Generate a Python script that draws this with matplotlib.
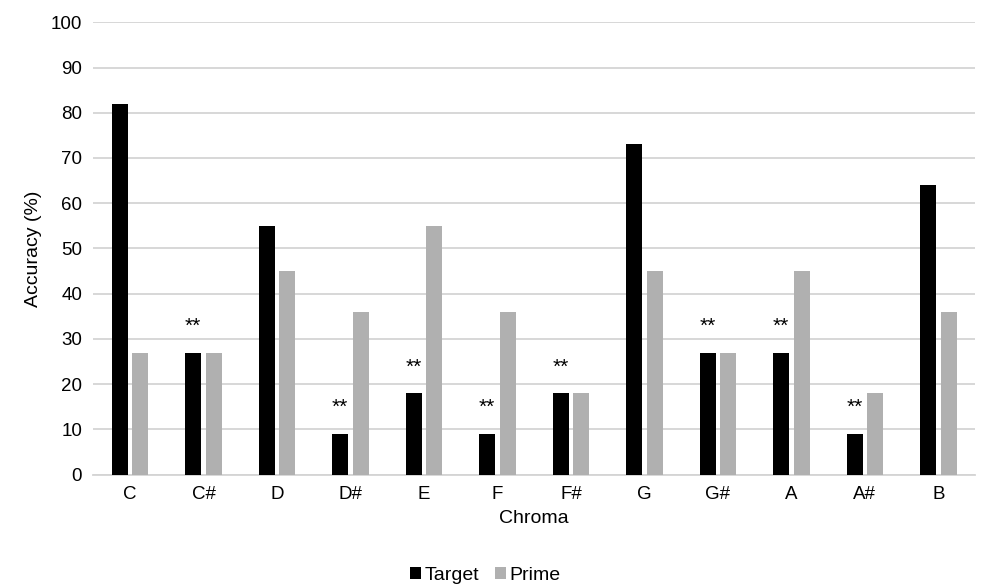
import numpy as np
import matplotlib
matplotlib.use("Agg")
import matplotlib.pyplot as plt

# ---------------------------------------------------------------------------
# Data
# ---------------------------------------------------------------------------

chroma = ["C", "C#", "D", "D#", "E", "F", "F#", "G", "G#", "A", "A#", "B"]
target = [82, 27, 55, 9, 18, 9, 18, 73, 27, 27, 9, 64]
prime = [27, 27, 45, 36, 55, 36, 18, 45, 27, 45, 18, 36]
significant = [False, True, False, True, True, True, True, False, True, True, True, False]

# ---------------------------------------------------------------------------
# Chart
# ---------------------------------------------------------------------------

plt.rcParams["font.family"] = ["Liberation Sans", "DejaVu Sans"]

fig = plt.figure(figsize=(9.82, 5.86), dpi=100)
ax = fig.add_axes([0.095, 0.19, 0.898, 0.772])

x = np.arange(len(chroma))
width = 0.22
gap = 0.06
ax.bar(x - (width + gap) / 2, target, width, color="black", label="Target", zorder=3)
ax.bar(x + (width + gap) / 2, prime, width, color="#b0b0b0", label="Prime", zorder=3)

for xi, val, sig in zip(x, target, significant):
    if sig:
        ax.annotate("**", (xi - (width + gap) / 2, val), xytext=(0, 12),
                    textcoords="offset points", ha="center", va="bottom",
                    fontsize=15)

ax.set_xlim(-0.5, len(chroma) - 0.5)
ax.set_ylim(0, 100)
ax.set_yticks(range(0, 101, 10))
ax.set_xticks(x)
ax.set_xticklabels(chroma)
ax.tick_params(axis="both", length=0, labelsize=13.5, pad=8)
ax.grid(axis="y", color="#d4d4d4", linewidth=1.3, zorder=0)
for side in ["top", "right", "left"]:
    ax.spines[side].set_visible(False)
ax.spines["bottom"].set_color("#d4d4d4")
ax.spines["bottom"].set_linewidth(1.3)

ax.set_xlabel("Chroma", fontsize=14, labelpad=5)
ax.set_ylabel("Accuracy (%)", fontsize=14, labelpad=6)

ax.legend(loc="lower center", bbox_to_anchor=(0.445, -0.268), ncol=2,
          frameon=False, fontsize=14, handlelength=0.55, handleheight=0.55,
          handletextpad=0.2, columnspacing=0.8, borderaxespad=0.2)

fig.savefig("out.png", dpi=100)
